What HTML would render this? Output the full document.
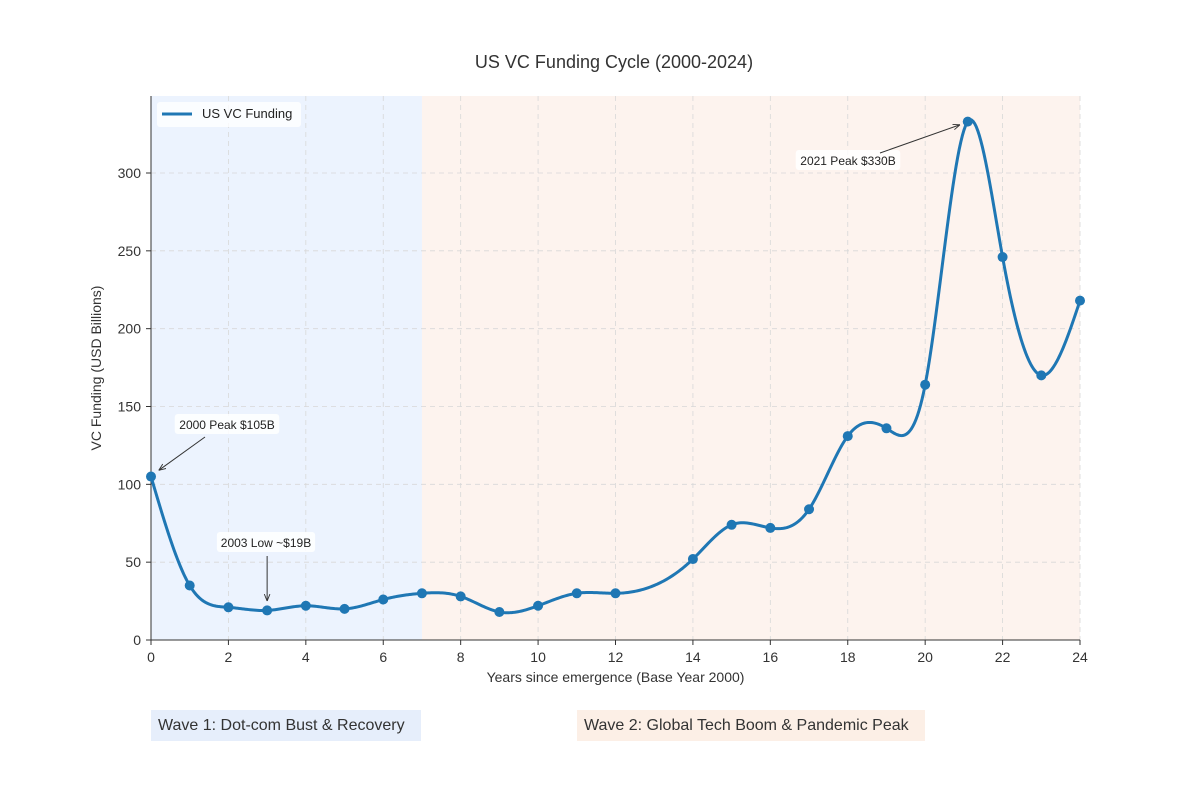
<!DOCTYPE html>
<html><head><meta charset="utf-8"><style>
body{margin:0;background:#fff;font-family:"Liberation Sans",sans-serif;}
svg text{font-family:"Liberation Sans",sans-serif;}
</style></head><body>
<svg id="chart" width="1200" height="800" xmlns="http://www.w3.org/2000/svg">
<rect width="1200" height="800" fill="#fff"/>
<text x="614" y="68" text-anchor="middle" font-size="18" fill="#333">US VC Funding Cycle (2000-2024)</text>
<g id="bg"></g><g id="grid"></g><g id="axes"></g><g id="series"></g><g id="annot"></g>
<g>
<rect x="157" y="102" width="144" height="25" rx="3" fill="#fff" fill-opacity="0.8"/>
<line x1="162" y1="114" x2="192" y2="114" stroke="#1f77b4" stroke-width="3"/>
<text x="202" y="118" font-size="13" fill="#222">US VC Funding</text>
</g>
<g>
<rect x="151" y="710" width="270" height="31" fill="#e6eefb"/>
<text x="158" y="730" font-size="16" fill="#333">Wave 1: Dot-com Bust &amp; Recovery</text>
<rect x="577" y="710" width="348" height="31" fill="#fcefe6"/>
<text x="584" y="730" font-size="16" fill="#333">Wave 2: Global Tech Boom &amp; Pandemic Peak</text>
</g>
</svg>
<script>
const years=[0,1,2,3,4,5,6,7,8,9,10,11,12,14,15,16,17,18,19,20,21.1,22,23,24];
const funding=[105,35,21,19,22,20,26,30,28,18,22,30,30,52,74,72,84,131,136,164,333,246,170,218];
const xTicks=[0,2,4,6,8,10,12,14,16,18,20,22,24];
const yTicks=[0,50,100,150,200,250,300];
const waves=[{from:0,to:7,color:"#ecf3fe",name:"wave1-region"},{from:7,to:24,color:"#fdf3ee",name:"wave2-region"}];
const NS="http://www.w3.org/2000/svg";
const L=151,R=1080,T=96,B=640;
const X=v=>L+(v-0)/(24-0)*(R-L);
const Y=v=>B-v/300*(B-173);
function mk(tag,attrs,parent){const e=document.createElementNS(NS,tag);for(const k in attrs)e.setAttribute(k,attrs[k]);document.getElementById(parent).appendChild(e);return e;}
waves.forEach(w=>{const r=mk("rect",{x:X(w.from),y:T,width:X(w.to)-X(w.from),height:B-T,fill:w.color},"bg");

});
xTicks.forEach(t=>{const g=mk("line",{x1:X(t),x2:X(t),y1:T,y2:B,stroke:"#d8d8d8","stroke-dasharray":"5,4","stroke-width":0.8},"grid");


const tk=mk("line",{x1:X(t),x2:X(t),y1:B,y2:B+5,stroke:"#333"},"axes");


const tx=mk("text",{x:X(t),y:B+22,"text-anchor":"middle","font-size":14,fill:"#333"},"axes");tx.textContent=t;

});
yTicks.forEach(t=>{const g=mk("line",{x1:L,x2:R,y1:Y(t),y2:Y(t),stroke:"#d8d8d8","stroke-dasharray":"5,4","stroke-width":0.8},"grid");


const tk=mk("line",{x1:L-5,x2:L,y1:Y(t),y2:Y(t),stroke:"#333"},"axes");


const tx=mk("text",{x:L-10,y:Y(t)+5,"text-anchor":"end","font-size":14,fill:"#333"},"axes");tx.textContent=t;

});
let a=mk("line",{x1:L,x2:L,y1:T,y2:B,stroke:"#333"},"axes");


a=mk("line",{x1:L,x2:R,y1:B,y2:B,stroke:"#333"},"axes");


a=mk("text",{x:(L+R)/2,y:682,"text-anchor":"middle","font-size":14,fill:"#333"},"axes");a.textContent="Years since emergence (Base Year 2000)";


a=mk("text",{x:101,y:(T+B)/2,"text-anchor":"middle","font-size":14,fill:"#333",transform:`rotate(-90 101 ${(T+B)/2})`},"axes");a.textContent="VC Funding (USD Billions)";


// natural cubic spline
function spline(xs,ys){const n=xs.length,h=[],al=[0],l=[1],mu=[0],z=[0],c=new Array(n).fill(0),b=[],d=[];
for(let i=0;i<n-1;i++)h.push(xs[i+1]-xs[i]);
for(let i=1;i<n-1;i++)al.push(3/h[i]*(ys[i+1]-ys[i])-3/h[i-1]*(ys[i]-ys[i-1]));
for(let i=1;i<n-1;i++){l[i]=2*(xs[i+1]-xs[i-1])-h[i-1]*mu[i-1];mu[i]=h[i]/l[i];z[i]=(al[i]-h[i-1]*z[i-1])/l[i];}
for(let j=n-2;j>=0;j--){c[j]=(j<n-1?z[j]||0:0)-mu[j]*c[j+1];b[j]=(ys[j+1]-ys[j])/h[j]-h[j]*(c[j+1]+2*c[j])/3;d[j]=(c[j+1]-c[j])/(3*h[j]);}
c[0]=0;
return x=>{let i=0;while(i<n-2&&x>xs[i+1])i++;const dx=x-xs[i];return ys[i]+b[i]*dx+c[i]*dx*dx+d[i]*dx*dx*dx;};}
const f=spline(years,funding);
let d="";const N=600;
for(let k=0;k<=N;k++){const xv=years[0]+(years[years.length-1]-years[0])*k/N;d+=(k?"L":"M")+X(xv).toFixed(2)+","+Y(f(xv)).toFixed(2);}
const line=mk("path",{d:d,fill:"none",stroke:"#1f77b4","stroke-width":3},"series");


years.forEach((y,i)=>{const c=mk("circle",{cx:X(y),cy:Y(funding[i]),r:5,fill:"#1f77b4"},"series");

});
mk("defs",{},"annot").innerHTML='<marker id="ar" viewBox="0 0 10 10" refX="10" refY="5" markerWidth="7" markerHeight="7" orient="auto"><path d="M0,1 L10,5 L0,9" fill="none" stroke="#333" stroke-width="1.3"/></marker>';
function ann(label,tx,ty,ax,ay,x2,y2,name){
const w=label.length*6.3+10;
const r=mk("rect",{x:tx-w/2,y:ty-12,width:w,height:20,rx:3,fill:"#fff","fill-opacity":0.85},"annot");


const t=mk("text",{x:tx,y:ty+3,"text-anchor":"middle","font-size":12,fill:"#222"},"annot");t.textContent=label;


const l=mk("line",{x1:ax,y1:ay,x2:x2,y2:y2,stroke:"#333","stroke-width":1,"marker-end":"url(#ar)"},"annot");

}
ann("2000 Peak $105B",227,426,205,437,X(0.2),Y(109),"annotation-2000-peak");
ann("2003 Low ~$19B",266,544,X(3),556,X(3),Y(25),"annotation-2003-low");
ann("2021 Peak $330B",848,162,880,153,X(20.9),Y(331),"annotation-2021-peak");
</script>
</body></html>
